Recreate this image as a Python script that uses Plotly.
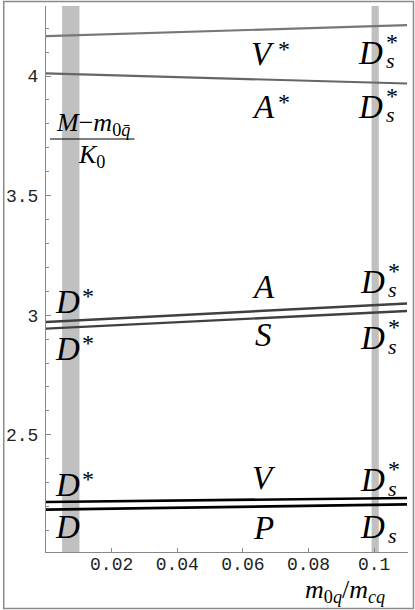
import plotly.graph_objects as go

# --- data ---
x_ends = [0.0, 0.11]
vstar_y = [4.167, 4.213]
astar_y = [4.011, 3.969]
a_y = [2.972, 3.049]
s_y = [2.944, 3.018]
v_y = [2.219, 2.236]
p_y = [2.187, 2.209]

band_d = [0.0049, 0.0102]    # D meson band
band_ds = [0.0992, 0.1014]   # D_s band

xtick_vals = [0.02, 0.04, 0.06, 0.08, 0.1]
xtick_text = ["0.02", "0.04", "0.06", "0.08", "0.1"]
ytick_vals = [2.5, 3.0, 3.5, 4.0]
ytick_text = ["2.5", "3", "3.5", "4"]

# figure geometry (pixels)
FW, FH = 415, 610
L, R, T, B = 44, 7, 6, 58
W = FW - L - R
H = FH - T - B


def px(xp):
    return (xp - L) / W


def py(yp):
    return (FH - B - yp) / H


fig = go.Figure()

series = [
    (vstar_y, "#777777", 2.2),
    (astar_y, "#666666", 2.2),
    (a_y, "#404040", 2.4),
    (s_y, "#404040", 2.4),
    (v_y, "#000000", 2.6),
    (p_y, "#000000", 2.6),
]
for ys, col, w in series:
    fig.add_trace(go.Scatter(x=x_ends, y=ys, mode="lines",
                             line=dict(color=col, width=w),
                             hoverinfo="skip", showlegend=False))

shapes = []
for b in (band_d, band_ds):
    shapes.append(dict(type="rect", xref="x", yref="paper", x0=b[0], x1=b[1],
                       y0=0, y1=1, fillcolor="#c0c0c0", line=dict(width=0),
                       layer="below"))
# fraction bar of the y label
shapes.append(dict(type="line", xref="paper", yref="paper",
                   x0=px(48), x1=px(133), y0=py(139), y1=py(139),
                   line=dict(color="black", width=1.2)))
# outer frame
shapes.append(dict(type="rect", xref="paper", yref="paper",
                   x0=px(1.5), x1=px(413.5), y0=py(1.5), y1=py(608.5),
                   line=dict(color="#8a8a8a", width=1.5)))

SERIF = "Liberation Serif"
ann = []


def lab(text, x, y, size=33):
    ann.append(dict(text=text, xref="paper", yref="paper", x=px(x), y=py(y),
                    xanchor="center", yanchor="middle", showarrow=False,
                    font=dict(family=SERIF, size=size, color="black")))


def dstar(x, y):
    lab("<i>D</i>", x, y)
    lab("*", x + 20, y - 6, 24)


def ds(x, y, star=True):
    lab("<i>D</i>", x, y)
    if star:
        lab("*", x + 22, y - 11, 24)
    lab("<i>s</i>", x + 20, y + 8, 22)


# top pair
lab("<i>V</i>", 262, 54)
lab("*", 283, 49, 24)
ds(370, 53)
lab("<i>A</i>", 263, 107)
lab("*", 283, 102, 24)
ds(370, 107)

# middle pair
dstar(66, 302)
lab("<i>A</i>", 263, 287)
ds(372, 282)
dstar(66, 349)
lab("<i>S</i>", 263, 335)
ds(372, 338)

# bottom pair
dstar(66, 485)
lab("<i>V</i>", 263, 478)
ds(372, 480)
lab("<i>D</i>", 66, 527)
lab("<i>P</i>", 263, 528)
ds(372, 527, star=False)

# axis labels
lab("<i>M</i>\u2212<i>m</i><sub>0<i>q\u0304</i></sub>", 91, 124, 26)
lab("<i>K</i><sub>0</sub>", 90, 156, 26)
lab("<i>m</i><sub>0<i>q</i></sub>/<i>m</i><sub><i>cq</i></sub>", 345, 591, 26)

TICKFONT = dict(family="Liberation Mono", size=18, color="#222222")

fig.update_layout(
    width=FW, height=FH,
    margin=dict(l=L, r=R, t=T, b=B, pad=0),
    paper_bgcolor="white", plot_bgcolor="white",
    shapes=shapes, annotations=ann, showlegend=False,
    xaxis=dict(range=[0, 0.1103], showgrid=False, zeroline=False,
               showline=True, linecolor="#888888", linewidth=1.2,
               ticks="inside", ticklen=4, tickcolor="#888888",
               tickmode="array", tickvals=xtick_vals, ticktext=xtick_text,
               tickfont=TICKFONT, ticklabelstandoff=-5),
    yaxis=dict(range=[2.01, 4.293], showgrid=False, zeroline=False,
               showline=True, linecolor="#888888", linewidth=1.2,
               ticks="inside", ticklen=5, tickcolor="#888888",
               tickmode="array", tickvals=ytick_vals, ticktext=ytick_text,
               tickfont=TICKFONT, ticklabelstandoff=3,
               minor=dict(tickmode="linear", tick0=2.0, dtick=0.1,
                          ticks="inside", ticklen=3, tickcolor="#888888")),
)

# drop the browser's default body margin so the figure sits at the window corner
fig.write_html("out.html", config={"displayModeBar": False},
               post_script="document.body.style.margin='0';")
